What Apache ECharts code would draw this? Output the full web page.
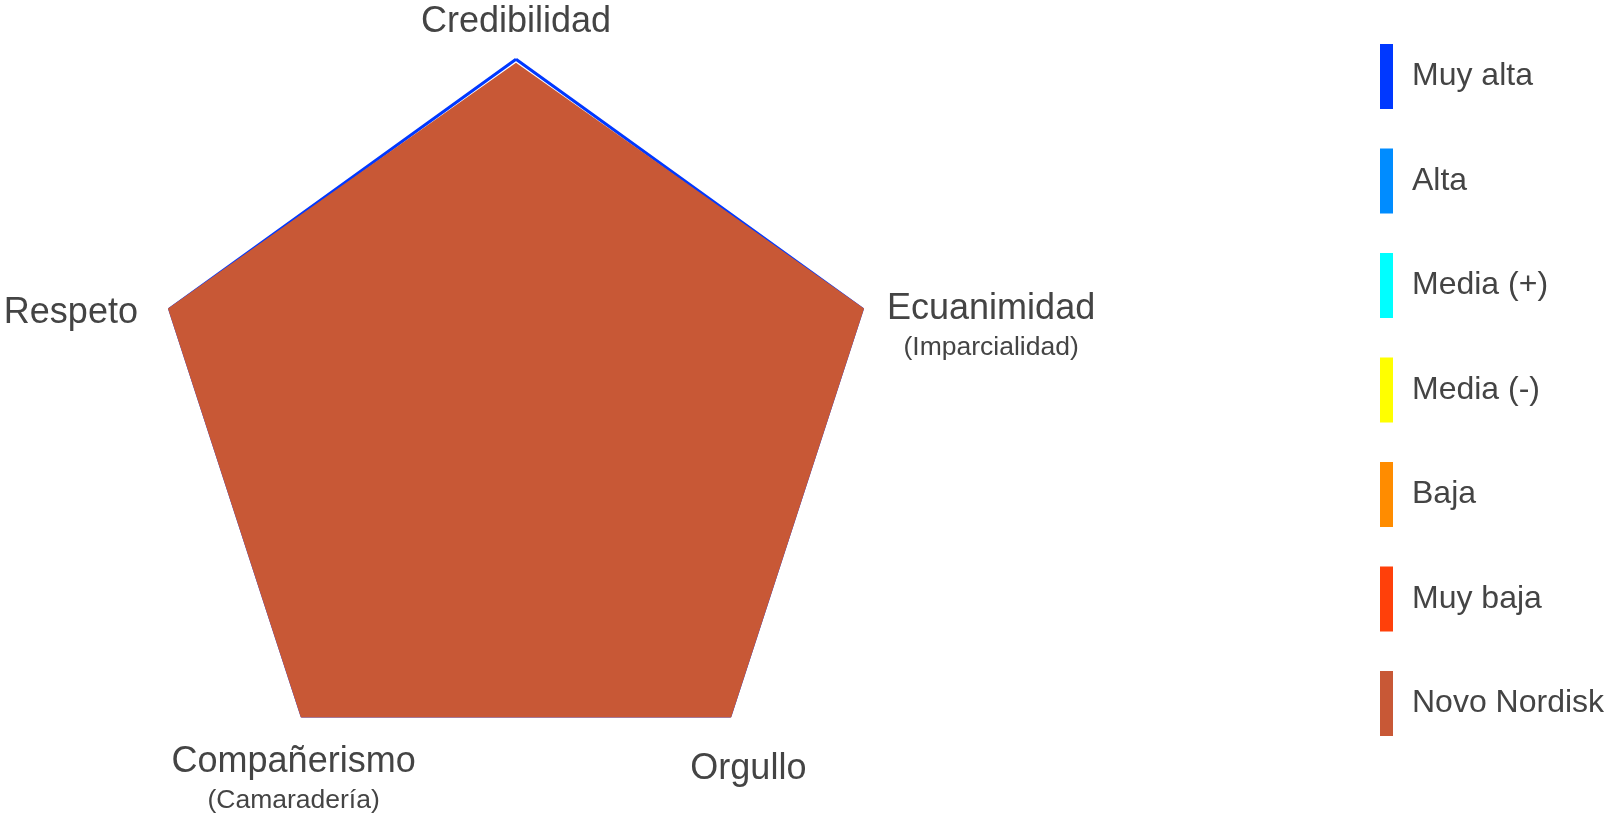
<!DOCTYPE html>
<html>
<head>
<meta charset="utf-8">
<script src="https://cdn.jsdelivr.net/npm/echarts@6/dist/echarts.min.js"></script>
<style>
  html, body { margin: 0; background: #fff; }
  #chart { width: 1607px; height: 813px; }
</style>
</head>
<body>
<div id="chart"></div>
<script>
// ejes del radar (orden antihorario desde arriba, como echarts)
const indicators = ['Credibilidad', 'Respeto', 'Compañerismo', 'Orgullo', 'Ecuanimidad'];
const subLabels = ['', '', '(Camaradería)', '', '(Imparcialidad)'];

const levelNames = ['Muy alta', 'Alta', 'Media (+)', 'Media (-)', 'Baja', 'Muy baja', 'Novo Nordisk'];
const levelColors = ['#0038ff', '#008cff', '#00ffff', '#ffff00', '#ff8c00', '#ff400a', '#c85836'];

// valores por nivel (los niveles inferiores quedan tapados por Novo Nordisk)
const muyAlta = [99, 99.5, 99.5, 99.5, 99.5];
const alta = [90, 90, 90, 90, 90];
const mediaMas = [80, 80, 80, 80, 80];
const mediaMenos = [70, 70, 70, 70, 70];
const baja = [60, 60, 60, 60, 60];
const muyBaja = [50, 50, 50, 50, 50];
const novoNordisk = [98, 100, 100, 100, 100];

const levelValues = [muyAlta, alta, mediaMas, mediaMenos, baja, muyBaja, novoNordisk];

// desplazamiento de cada nombre de eje (padding: arriba, derecha, abajo, izquierda)
const namePads = [
  [0, 0, 26, 0],
  [22, 156, 0, 0],
  [93, 0, 0, 9],
  [70, 0, 0, 11],
  [50, 0, 0, 216]
];

const textColor = '#444';
const rich = {};
namePads.forEach((p, i) => {
  rich['t' + i] = { fontSize: 36, lineHeight: 40, color: textColor, padding: p };
  rich['s' + i] = { fontSize: 26.5, lineHeight: 36, color: textColor, padding: p };
});

const chart = echarts.init(document.getElementById('chart'));

const option = {
  animation: false,
  textStyle: { fontFamily: 'Liberation Sans, Arial, sans-serif' },
  legend: {
    orient: 'vertical',
    left: 1375,
    top: 39,
    icon: 'rect',
    itemWidth: 13,
    itemHeight: 65,
    itemGap: 39.5,
    data: levelNames,
    textStyle: { fontSize: 32, color: textColor, padding: [0, 0, 4, 14] }
  },
  radar: {
    center: [516, 421.5],
    radius: 366,
    shape: 'polygon',
    nameGap: 20,
    indicator: indicators.map(n => ({ name: n, max: 100, min: 0 })),
    axisName: {
      align: 'center',
      verticalAlign: 'middle',
      color: textColor,
      formatter: (name) => {
        const i = indicators.indexOf(name);
        let s = '{t' + i + '|' + name + '}';
        if (subLabels[i]) s += '\n{s' + i + '|' + subLabels[i] + '}';
        return s;
      },
      rich: rich
    },
    splitNumber: 5,
    axisLine: { show: false },
    splitLine: { show: false },
    splitArea: { show: false },
    axisTick: { show: false },
    axisLabel: { show: false }
  },
  series: levelNames.map((name, k) => {
    const isNovo = name === 'Novo Nordisk';
    return {
      name: name,
      type: 'radar',
      symbol: 'none',
      silent: true,
      itemStyle: { color: levelColors[k] },
      lineStyle: { color: levelColors[k], width: isNovo ? 0 : 3 },
      areaStyle: isNovo ? { color: levelColors[k], opacity: 1 } : undefined,
      data: [{ value: levelValues[k], name: name }]
    };
  })
};

chart.setOption(option);
</script>
</body>
</html>
